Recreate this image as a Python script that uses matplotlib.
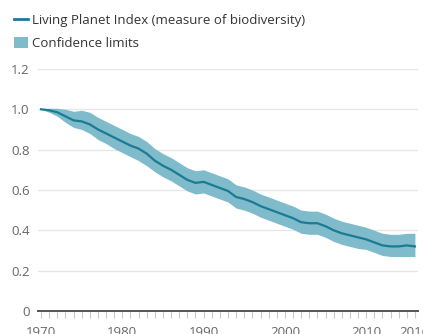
import numpy as np
import matplotlib.pyplot as plt
from matplotlib.lines import Line2D
from matplotlib.patches import Patch
from matplotlib.ticker import MultipleLocator

plt.rcParams['font.family'] = ['Open Sans', 'DejaVu Sans']

# Living Planet Index 1970-2016
years = list(range(1970, 2017))
lpi = [1.000, 0.995, 0.985, 0.965, 0.945, 0.940, 0.925, 0.900, 0.880, 0.860,
       0.840, 0.820, 0.805, 0.780, 0.745, 0.720, 0.700, 0.675, 0.650, 0.635,
       0.640, 0.625, 0.610, 0.595, 0.565, 0.555, 0.540, 0.520, 0.505, 0.490,
       0.475, 0.460, 0.440, 0.435, 0.435, 0.420, 0.400, 0.385, 0.375, 0.365,
       0.355, 0.340, 0.325, 0.320, 0.320, 0.325, 0.320]
upper = [1.000, 1.005, 1.005, 1.000, 0.990, 0.995, 0.985, 0.960, 0.940, 0.920,
         0.900, 0.880, 0.865, 0.840, 0.805, 0.780, 0.760, 0.735, 0.710, 0.695,
         0.700, 0.685, 0.670, 0.655, 0.625, 0.615, 0.600, 0.580, 0.565, 0.550,
         0.535, 0.520, 0.500, 0.495, 0.495, 0.480, 0.460, 0.445, 0.435, 0.425,
         0.415, 0.400, 0.385, 0.380, 0.380, 0.385, 0.385]
lower = [1.000, 0.985, 0.965, 0.935, 0.910, 0.900, 0.880, 0.850, 0.830, 0.805,
         0.785, 0.765, 0.745, 0.720, 0.690, 0.665, 0.645, 0.620, 0.595, 0.580,
         0.585, 0.570, 0.555, 0.540, 0.510, 0.500, 0.485, 0.465, 0.450, 0.435,
         0.420, 0.405, 0.385, 0.380, 0.380, 0.365, 0.345, 0.330, 0.320, 0.310,
         0.305, 0.290, 0.275, 0.270, 0.270, 0.270, 0.270]

y_ticks = [0, 0.2, 0.4, 0.6, 0.8, 1.0, 1.2]
y_labels = ['0', '0.2', '0.4', '0.6', '0.8', '1.0', '1.2']
x_ticks = [1970, 1980, 1990, 2000, 2010, 2016]

line_col = '#1a7b93'
band_col = '#7fbbcb'

fig = plt.figure(figsize=(4.23, 3.34), dpi=100)
ax = fig.add_axes([0.09, 0.069, 0.898, 0.7246])

ax.fill_between(years, lower, upper, color=band_col, lw=0, zorder=2)
ax.plot(years, lpi, color=line_col, lw=1.6, zorder=3)

ax.set_xlim(1969.63, 2016.37)
ax.set_ylim(0, 1.2)

ax.set_yticks(y_ticks)
ax.set_yticklabels(y_labels)
ax.set_xticks(x_ticks)
ax.set_xticklabels([str(x) for x in x_ticks])
ax.xaxis.set_minor_locator(MultipleLocator(1))

for v in y_ticks[1:]:
    ax.axhline(v, color='#e6e6e6', lw=0.9, zorder=1)
ax.axhline(0, color='#555555', lw=1.4, zorder=4, clip_on=False)

for s in ax.spines.values():
    s.set_visible(False)

ax.tick_params(axis='y', length=0, pad=6, labelsize=9.5, labelcolor='#666666')
ax.tick_params(axis='x', which='both', length=5, color='#c8c8c8', width=0.8,
               labelsize=9.5, labelcolor='#666666', pad=6)

handles = [Line2D([0], [0], color=line_col, lw=2),
           Patch(facecolor=band_col, edgecolor='none')]
fig.legend(handles, ['Living Planet Index (measure of biodiversity)', 'Confidence limits'],
           loc='upper left', bbox_to_anchor=(0.033, 0.96), frameon=False,
           fontsize=9.5, labelcolor='#333333', handlelength=1.1, handleheight=1.0,
           handletextpad=0.3, labelspacing=0.75, borderpad=0, borderaxespad=0)

plt.savefig('out.png', dpi=100)
